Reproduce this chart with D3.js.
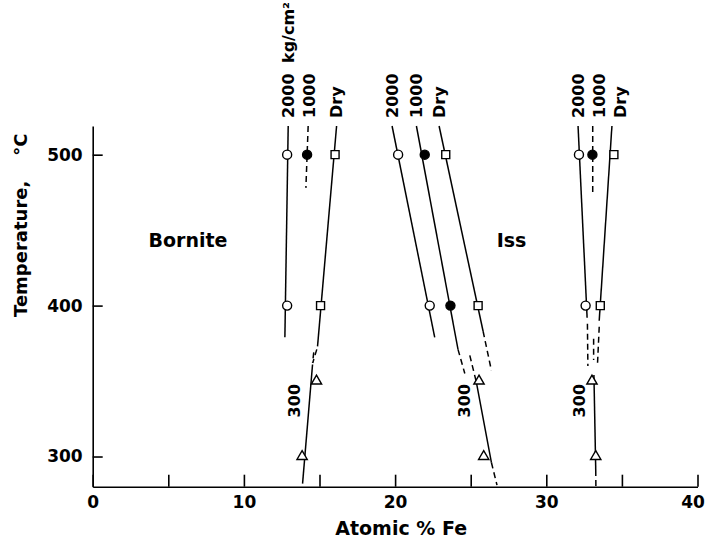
<!DOCTYPE html>
<html>
<head>
<meta charset="utf-8">
<script src="https://cdn.jsdelivr.net/npm/d3@7"></script>
<style>
  body { margin: 0; background: #fff; }
  svg { display: block; font-family: "DejaVu Sans", sans-serif; font-weight: bold; }
  .axis path, .axis line { stroke: #000; stroke-width: 1.6; }
  .axis text { font-family: "DejaVu Sans", sans-serif; font-weight: bold; font-size: 17px; fill: #000; }
</style>
</head>
<body>
<svg id="chart" width="708" height="546"></svg>
<script>
// axis ticks
const xTicks = [0, 5, 10, 15, 20, 25, 30, 35, 40];
const xTickLabels = [0, 10, 20, 30, 40];
const yTicks = [300, 400, 500];

// series names (pressure, kg/cm2) and the column labels on top
const seriesNames = ['2000', '1000', 'Dry', '300'];
const topLabels = ['2000', '1000', 'Dry'];

// measured points: [series, atomic % Fe, temperature]
const bornitePoints = [
    ['2000', 12.86, 500], ['2000', 12.86, 400],
    ['1000', 14.18, 500],
    ['Dry', 16.03, 500], ['Dry', 15.07, 400],
    ['300', 14.8, 350], ['300', 13.85, 300]
];
const issLeftPoints = [
    ['2000', 20.2, 500], ['2000', 22.29, 400],
    ['1000', 21.96, 500], ['1000', 23.66, 400],
    ['Dry', 23.35, 500], ['Dry', 25.49, 400],
    ['300', 25.55, 350], ['300', 25.86, 300]
];
const issRightPoints = [
    ['2000', 32.16, 500], ['2000', 32.6, 400],
    ['1000', 33.05, 500],
    ['Dry', 34.47, 500], ['Dry', 33.57, 400],
    ['300', 33.02, 350], ['300', 33.27, 300]
];

// boundary lines: [series, x1, t1, x2, t2, dashed]
const borniteLines = [
    ['2000', 12.93, 519, 12.71, 379, false],
    ['1000', 14.25, 519, 14.10, 478, true],
    ['Dry', 16.13, 519, 14.87, 373, false],
    ['Dry', 14.82, 371, 14.55, 362, true],
    ['300', 14.62, 369, 14.54, 362, true],
    ['300', 14.54, 361, 13.88, 282, false]
];
const issLeftLines = [
    ['2000', 19.8, 519, 22.62, 379, false],
    ['1000', 21.41, 519, 24.16, 371, false],
    ['1000', 24.16, 371, 24.61, 355, true],
    ['Dry', 22.91, 519, 25.82, 383, false],
    ['Dry', 25.82, 383, 26.37, 357, true],
    ['300', 24.94, 367, 25.38, 349, true],
    ['300', 25.38, 349, 26.37, 296, false],
    ['300', 26.37, 296, 26.74, 281, true]
];
const issRightLines = [
    ['2000', 32.1, 519, 32.7, 392, false],
    ['2000', 32.72, 388, 32.75, 360, true],
    ['1000', 33.07, 519, 33.07, 475, true],
    ['Dry', 34.34, 519, 33.5, 390, false],
    ['Dry', 33.5, 386, 33.38, 360, true],
    ['300', 33.13, 378, 33.13, 364, true],
    ['300', 33.15, 354, 33.27, 291, false],
    ['300', 33.27, 291, 33.28, 280, true]
];

const groups = [
    { points: bornitePoints, lines: borniteLines, unit: true },
    { points: issLeftPoints, lines: issLeftLines, unit: false },
    { points: issRightPoints, lines: issRightLines, unit: false }
];

let svg = d3.select('#chart');

let x = d3.scaleLinear()
          .domain([0, 40])
          .range([92.7, 697.5]);

let y = d3.scaleLinear()
          .domain([280, 519])
          .range([486.7, 126]);

// axes, ticks pointing inward
let xAxis = svg.append('g')
   .attr('class', 'axis')
   .attr('transform', `translate(0,${y(280)})`)
   .call(d3.axisBottom(x)
           .tickValues(xTicks)
           .tickSize(-12)
           .tickSizeOuter(0)
           .tickPadding(9)
           .tickFormat(d => xTickLabels.includes(d) ? d : ''));

// keep the last label inside the page
xAxis.selectAll('.tick text')
     .filter(d => d === 40)
     .attr('dx', -5);

svg.append('g')
   .attr('class', 'axis')
   .attr('transform', `translate(${x(0)},0)`)
   .call(d3.axisLeft(y)
           .tickValues(yTicks)
           .tickSize(-10)
           .tickSizeOuter(0)
           .tickPadding(10));

// axis titles
svg.append('text')
   .attr('x', x(20.4))
   .attr('y', 535)
   .attr('text-anchor', 'middle')
   .style('font-size', '19px')
   .text('Atomic % Fe');

let yTitle = svg.append('text')
                .attr('transform', 'translate(27,317) rotate(-90)')
                .style('font-size', '18px');
yTitle.append('tspan').text('Temperature,');
yTitle.append('tspan').attr('dx', 25).text('°C');

// phase names
svg.append('text')
   .attr('x', x(6.3)).attr('y', 247)
   .attr('text-anchor', 'middle')
   .style('font-size', '19px')
   .text('Bornite');

svg.append('text')
   .attr('x', x(27.7)).attr('y', 247)
   .attr('text-anchor', 'middle')
   .style('font-size', '19px')
   .text('Iss');

let shapes = {
    '2000': { type: d3.symbolCircle, size: 64, fill: '#fff' },
    '1000': { type: d3.symbolCircle, size: 64, fill: '#000' },
    'Dry': { type: d3.symbolSquare, size: 64, fill: '#fff' },
    '300': { type: d3.symbolTriangle, size: 46, fill: '#fff' }
};

groups.forEach(g => {
    let layer = svg.append('g');

    layer.selectAll('line')
         .data(g.lines)
         .enter()
         .append('line')
         .attr('x1', d => x(d[1]))
         .attr('y1', d => y(d[2]))
         .attr('x2', d => x(d[3]))
         .attr('y2', d => y(d[4]))
         .attr('stroke', '#000')
         .attr('stroke-width', 1.5)
         .attr('stroke-dasharray', d => d[5] ? '6,4' : null);

    layer.selectAll('path')
         .data(g.points)
         .enter()
         .append('path')
         .attr('transform', d => `translate(${x(d[1])},${y(d[2])})`)
         .attr('d', d => d3.symbol().type(shapes[d[0]].type).size(shapes[d[0]].size)())
         .attr('fill', d => shapes[d[0]].fill)
         .attr('stroke', '#000')
         .attr('stroke-width', 1.4);

    // column labels above the lines, read upward; spread so they don't touch
    let prev = -Infinity;
    topLabels.forEach(name => {
        let top = g.lines.find(l => l[0] === name);
        let lx = Math.max(x(top[1]), prev + 21);
        prev = lx;
        svg.append('text')
           .attr('transform', `translate(${lx},${y(519) - 8}) rotate(-90)`)
           .attr('dy', '0.35em')
           .style('font-size', '16px')
           .text(name);
        if (name === '2000' && g.unit) {
            svg.append('text')
               .attr('transform', `translate(${lx},63) rotate(-90)`)
               .attr('dy', '0.35em')
               .style('font-size', '16px')
               .text('kg/cm²');
        }
    });

    // "300" label beside its line
    let solid = g.lines.find(l => l[0] === '300' && !l[5]);
    let t = 337;
    let lx = x(solid[1] + (solid[3] - solid[1]) * (solid[2] - t) / (solid[2] - solid[4]));
    svg.append('text')
       .attr('transform', `translate(${lx - 15},${y(t)}) rotate(-90)`)
       .attr('dy', '0.35em')
       .attr('text-anchor', 'middle')
       .style('font-size', '16px')
       .text('300');
});
</script>
</body>
</html>
